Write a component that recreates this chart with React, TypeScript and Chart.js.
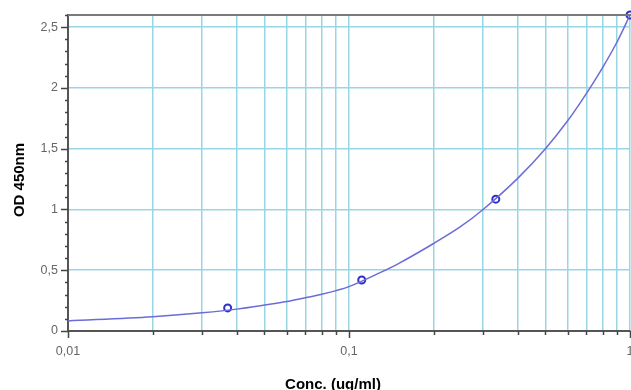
import React, { useEffect, useRef } from "react";
import { Chart, registerables } from "chart.js";

Chart.register(...registerables);

// Standard points (concentration ug/ml, OD 450nm)
const standardConc = [0.037, 0.111, 0.333, 1];
const standardOD = [0.19, 0.42, 1.085, 2.6];

// Fitted curve
const curveConc = [0.01, 0.02, 0.03, 0.04, 0.05, 0.06, 0.07, 0.08, 0.09, 0.1, 0.129, 0.15, 0.2, 0.25, 0.3, 0.4, 0.5, 0.6, 0.675, 0.8, 0.9, 1];
const curveOD = [0.083, 0.118, 0.15, 0.18, 0.213, 0.242, 0.274, 0.302, 0.332, 0.365, 0.48, 0.555, 0.72, 0.86, 1.0, 1.26, 1.5, 1.73, 1.9, 2.17, 2.38, 2.6];

// Axis ticks
const xTickValues = [0.01, 0.02, 0.03, 0.04, 0.05, 0.06, 0.07, 0.08, 0.09, 0.1, 0.2, 0.3, 0.4, 0.5, 0.6, 0.7, 0.8, 0.9, 1];
const xTickLabels = ["0,01", "0,1", "1"];
const xMajorValues = [0.01, 0.1, 1];

const xTitle = "Conc. (ug/ml)";
const yTitle = "OD 450nm";

const isHalf = (v: number) => Math.abs(v * 2 - Math.round(v * 2)) < 1e-6;
const isDecade = (v: number) => xMajorValues.some((m) => Math.abs(m - v) < 1e-9);

const decorPlugin = {
  id: "decor",
  afterDraw(chart: any) {
    const { ctx, chartArea } = chart;
    const xs = chart.scales.x;
    const ys = chart.scales.y;
    ctx.save();
    // top border
    ctx.strokeStyle = "#7a7a7a";
    ctx.lineWidth = 2;
    ctx.beginPath();
    ctx.moveTo(chartArea.left, chartArea.top);
    ctx.lineTo(chartArea.right + 6, chartArea.top);
    ctx.stroke();
    // y tick marks
    ctx.strokeStyle = "#444";
    ctx.lineWidth = 1.5;
    ys.ticks.forEach((t: any) => {
      const py = Math.round(ys.getPixelForValue(t.value)) + 0.5;
      const len = isHalf(t.value) ? 7 : 3;
      ctx.beginPath();
      ctx.moveTo(chartArea.left - len, py);
      ctx.lineTo(chartArea.left, py);
      ctx.stroke();
    });
    // x tick marks
    xs.ticks.forEach((t: any) => {
      const px = Math.round(xs.getPixelForValue(t.value)) + 0.5;
      const len = isDecade(t.value) ? 7 : 4;
      ctx.beginPath();
      ctx.moveTo(px, chartArea.bottom);
      ctx.lineTo(px, chartArea.bottom + len);
      ctx.stroke();
    });
    // titles
    ctx.fillStyle = "#000";
    ctx.font = "bold 15px 'Liberation Sans', Arial, sans-serif";
    ctx.textAlign = "center";
    ctx.textBaseline = "alphabetic";
    ctx.fillText(xTitle, 333, 389);
    ctx.translate(20, 180);
    ctx.rotate(-Math.PI / 2);
    ctx.textBaseline = "middle";
    ctx.fillText(yTitle, 0, 0);
    ctx.restore();
  },
};

export default function App() {
  const canvasRef = useRef<HTMLCanvasElement | null>(null);

  useEffect(() => {
    const canvas = canvasRef.current;
    if (!canvas) return;
    const chart = new Chart(canvas, {
      type: "line",
      data: {
        datasets: [
          {
            label: "curve",
            data: curveConc.map((x, i) => ({ x, y: curveOD[i] })),
            borderColor: "#6c6cd8",
            borderWidth: 1.5,
            pointRadius: 0,
            cubicInterpolationMode: "monotone",
            fill: false,
            clip: false as any,
          },
          {
            label: "standards",
            data: standardConc.map((x, i) => ({ x, y: standardOD[i] })),
            showLine: false,
            borderColor: "#2e2ec8",
            backgroundColor: "rgba(255,255,255,0.7)",
            pointRadius: 3.5,
            pointBorderWidth: 2,
            clip: false as any,
          },
        ],
      },
      options: {
        animation: false,
        responsive: false,
        devicePixelRatio: 1,
        layout: { padding: { top: 15, right: 0, left: 0, bottom: 0 } },
        plugins: {
          legend: { display: false },
          tooltip: { enabled: false },
          title: { display: false },
        },
        scales: {
          x: {
            type: "logarithmic",
            min: 0.01,
            max: 1,
            afterBuildTicks: (scale: any) => {
              scale.ticks = xTickValues.map((v) => ({ value: v }));
            },
            afterFit: (scale: any) => {
              scale.height = 59;
              scale.paddingLeft = 0;
              scale.paddingRight = 0;
            },
            grid: {
              color: "#98d6e6",
              lineWidth: 1.5,
              drawTicks: false,
            },
            border: { color: "#555", width: 2 },
            ticks: {
              autoSkip: false,
              maxRotation: 0,
              padding: 13,
              color: "#666",
              font: { family: "'Liberation Sans', Arial, sans-serif", size: 12.5 },
              callback: (v: any) => {
                const i = xMajorValues.findIndex((m) => Math.abs(m - Number(v)) < 1e-9);
                return i >= 0 ? xTickLabels[i] : "";
              },
            },
          },
          y: {
            type: "linear",
            min: 0,
            max: 2.6,
            afterFit: (scale: any) => {
              scale.width = 68;
              scale.paddingTop = 0;
              scale.paddingBottom = 0;
            },
            grid: {
              color: (c: any) => (c.tick && isHalf(c.tick.value) && c.tick.value > 0 ? "#98d6e6" : "rgba(0,0,0,0)"),
              lineWidth: 1.5,
              drawTicks: false,
            },
            border: { color: "#555", width: 2 },
            ticks: {
              stepSize: 0.1,
              maxTicksLimit: 100,
              autoSkip: false,
              padding: 10,
              color: "#666",
              font: { family: "'Liberation Sans', Arial, sans-serif", size: 12.5 },
              callback: (v: any) => {
                const n = Number(v);
                if (!isHalf(n)) return "";
                const r = Math.round(n * 2) / 2;
                return String(r).replace(".", ",");
              },
            },
          },
        },
      } as any,
      plugins: [decorPlugin],
    });
    return () => chart.destroy();
  }, []);

  return (
    <div style={{ position: "fixed", left: 0, top: 0, width: 631, height: 390, overflow: "hidden", background: "#fff" }}>
      <canvas ref={canvasRef} width={636} height={390} style={{ display: "block" }} />
    </div>
  );
}
